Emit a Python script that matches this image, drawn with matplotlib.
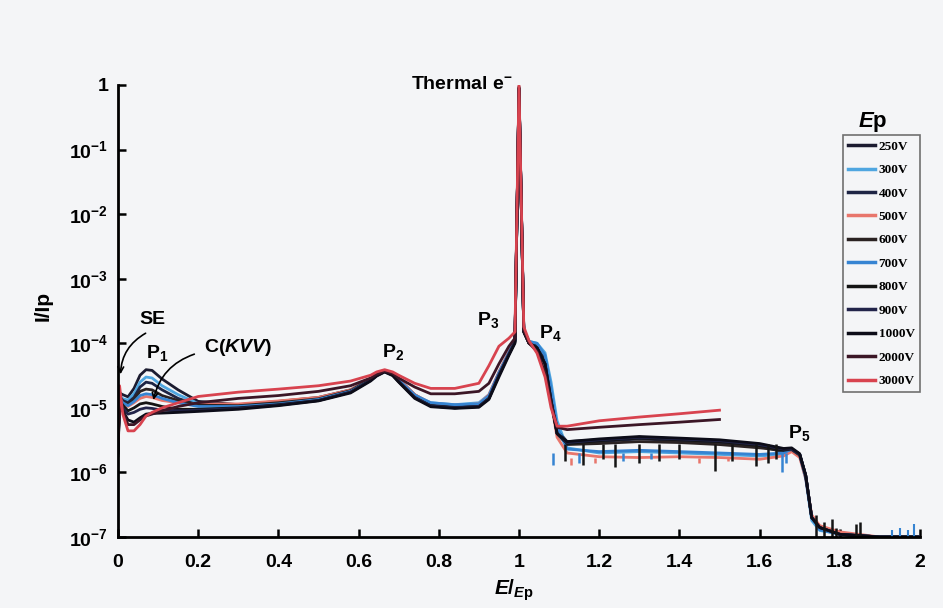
import matplotlib
matplotlib.use('Agg')
import matplotlib.pyplot as plt
from matplotlib.ticker import NullLocator

# Energy spectra I/Ip vs E/Ep for several primary energies

x_low = [0.0, 0.004, 0.012, 0.025, 0.04, 0.055, 0.07, 0.085, 0.11, 0.15,
         0.2, 0.3, 0.4, 0.5, 0.58, 0.63, 0.645, 0.665, 0.685, 0.7,
         0.74, 0.78, 0.84, 0.9, 0.925, 0.95, 0.975, 0.99, 1.0, 1.012,
         1.025, 1.045, 1.065, 1.08, 1.095, 1.12, 1.2, 1.3, 1.4, 1.5,
         1.6, 1.66, 1.68, 1.7, 1.715, 1.73, 1.75, 1.8, 1.9, 2.0]

x_high = [0.0, 0.004, 0.012, 0.025, 0.04, 0.055, 0.07, 0.085, 0.11, 0.15,
          0.2, 0.3, 0.4, 0.5, 0.58, 0.63, 0.645, 0.665, 0.685, 0.7,
          0.74, 0.78, 0.84, 0.9, 0.925, 0.95, 0.975, 0.99, 1.0, 1.012,
          1.025, 1.045, 1.065, 1.08, 1.095, 1.12, 1.2, 1.3, 1.4, 1.5]

y_250 = [2.5e-6, 1.7e-5, 1.6e-5, 1.48e-5, 2.0e-5, 3.2e-5, 3.9e-5, 3.8e-5, 2.8e-5, 1.9e-5,
         1.26e-5, 1.12e-5, 1.26e-5, 1.45e-5, 1.9e-5, 2.8e-5, 3.3e-5, 3.75e-5, 3.4e-5, 2.8e-5,
         1.6e-5, 1.15e-5, 1.07e-5, 1.12e-5, 1.4e-5, 3.5e-5, 7.1e-5, 1.12e-4, 0.89, 1.6e-4,
         1.05e-4, 8.9e-5, 5.0e-5, 1.4e-5, 4.5e-6, 3.0e-6, 3.2e-6, 3.5e-6, 3.3e-6, 3.0e-6,
         2.5e-6, 2.1e-6, 2.3e-6, 1.9e-6, 8.9e-7, 2.0e-7, 1.4e-7, 1.12e-7, 1.0e-7, 1.0e-7]

y_300 = [2.5e-6, 1.6e-5, 1.38e-5, 1.32e-5, 1.66e-5, 2.5e-5, 3.0e-5, 2.9e-5, 2.2e-5, 1.6e-5,
         1.17e-5, 1.1e-5, 1.23e-5, 1.4e-5, 1.86e-5, 2.75e-5, 3.25e-5, 3.7e-5, 3.35e-5, 2.7e-5,
         1.55e-5, 1.2e-5, 1.12e-5, 1.2e-5, 1.6e-5, 3.5e-5, 7.1e-5, 1.12e-4, 0.89, 1.6e-4,
         1.07e-4, 1.0e-4, 7.1e-5, 2.5e-5, 6.3e-6, 2.4e-6, 2.0e-6, 2.1e-6, 2.0e-6, 1.9e-6,
         1.8e-6, 1.9e-6, 2.2e-6, 1.8e-6, 7.9e-7, 1.8e-7, 1.26e-7, 1.12e-7, 1.0e-7, 1.0e-7]

y_400 = [2.2e-6, 1.5e-5, 1.3e-5, 1.2e-5, 1.45e-5, 2.1e-5, 2.5e-5, 2.4e-5, 1.9e-5, 1.4e-5,
         1.1e-5, 1.07e-5, 1.2e-5, 1.38e-5, 1.85e-5, 2.75e-5, 3.25e-5, 3.7e-5, 3.3e-5, 2.65e-5,
         1.5e-5, 1.12e-5, 1.05e-5, 1.1e-5, 1.5e-5, 3.4e-5, 7.0e-5, 1.1e-4, 0.9, 1.6e-4,
         1.05e-4, 9.0e-5, 5.5e-5, 1.5e-5, 4.5e-6, 2.9e-6, 3.0e-6, 3.3e-6, 3.1e-6, 2.9e-6,
         2.5e-6, 2.2e-6, 2.3e-6, 1.9e-6, 9.0e-7, 2.0e-7, 1.4e-7, 1.1e-7, 1.0e-7, 1.0e-7]

y_500 = [2.5e-6, 1.4e-5, 1.2e-5, 1.05e-5, 1.2e-5, 1.4e-5, 1.5e-5, 1.45e-5, 1.3e-5, 1.2e-5,
         1.15e-5, 1.15e-5, 1.28e-5, 1.45e-5, 1.9e-5, 2.8e-5, 3.3e-5, 3.8e-5, 3.4e-5, 2.8e-5,
         1.6e-5, 1.18e-5, 1.1e-5, 1.15e-5, 1.6e-5, 3.6e-5, 7.5e-5, 1.15e-4, 0.92, 1.5e-4,
         1.0e-4, 8.5e-5, 4.5e-5, 1.2e-5, 3.5e-6, 2.0e-6, 1.75e-6, 1.7e-6, 1.75e-6, 1.7e-6,
         1.6e-6, 1.8e-6, 2.1e-6, 1.7e-6, 8.0e-7, 2.2e-7, 1.5e-7, 1.2e-7, 1.0e-7, 1.0e-7]

y_600 = [2.2e-6, 1.45e-5, 1.25e-5, 1.12e-5, 1.35e-5, 1.8e-5, 1.95e-5, 1.9e-5, 1.55e-5, 1.3e-5,
         1.1e-5, 1.08e-5, 1.2e-5, 1.38e-5, 1.85e-5, 2.8e-5, 3.3e-5, 3.8e-5, 3.35e-5, 2.65e-5,
         1.5e-5, 1.1e-5, 1.05e-5, 1.08e-5, 1.45e-5, 3.3e-5, 7.0e-5, 1.1e-4, 0.9, 1.55e-4,
         1.0e-4, 8.8e-5, 5.0e-5, 1.4e-5, 4.0e-6, 2.7e-6, 2.8e-6, 3.0e-6, 2.9e-6, 2.7e-6,
         2.4e-6, 2.2e-6, 2.25e-6, 1.85e-6, 8.5e-7, 2.0e-7, 1.4e-7, 1.1e-7, 1.0e-7, 1.0e-7]

y_700 = [2.5e-6, 1.4e-5, 1.2e-5, 1.08e-5, 1.25e-5, 1.55e-5, 1.65e-5, 1.6e-5, 1.4e-5, 1.2e-5,
         1.05e-5, 1.05e-5, 1.15e-5, 1.35e-5, 1.8e-5, 2.7e-5, 3.2e-5, 3.7e-5, 3.35e-5, 2.7e-5,
         1.58e-5, 1.2e-5, 1.12e-5, 1.15e-5, 1.55e-5, 3.5e-5, 7.2e-5, 1.1e-4, 0.9, 1.6e-4,
         1.07e-4, 1.0e-4, 6.5e-5, 2.0e-5, 5.0e-6, 2.3e-6, 2.1e-6, 2.2e-6, 2.1e-6, 2.0e-6,
         1.9e-6, 2.0e-6, 2.3e-6, 1.9e-6, 8.5e-7, 2.0e-7, 1.3e-7, 1.1e-7, 1.0e-7, 1.0e-7]

y_800 = [2.0e-6, 1.3e-5, 1.1e-5, 9.0e-6, 1.0e-5, 1.15e-5, 1.2e-5, 1.15e-5, 1.05e-5, 9.5e-6,
         9.5e-6, 1.0e-5, 1.12e-5, 1.3e-5, 1.75e-5, 2.7e-5, 3.2e-5, 3.7e-5, 3.25e-5, 2.55e-5,
         1.45e-5, 1.07e-5, 1.0e-5, 1.05e-5, 1.4e-5, 3.2e-5, 6.8e-5, 1.05e-4, 0.88, 1.5e-4,
         1.0e-4, 8.5e-5, 4.8e-5, 1.3e-5, 4.0e-6, 2.8e-6, 3.1e-6, 3.4e-6, 3.2e-6, 3.0e-6,
         2.6e-6, 2.2e-6, 2.3e-6, 1.9e-6, 9.0e-7, 2.0e-7, 1.4e-7, 1.1e-7, 1.0e-7, 1.0e-7]

y_900 = [2.0e-6, 1.25e-5, 1.0e-5, 8.0e-6, 8.5e-6, 9.5e-6, 1.0e-5, 9.8e-6, 9.2e-6, 9.0e-6,
         9.2e-6, 9.8e-6, 1.1e-5, 1.3e-5, 1.75e-5, 2.65e-5, 3.15e-5, 3.6e-5, 3.2e-5, 2.55e-5,
         1.45e-5, 1.07e-5, 1.0e-5, 1.05e-5, 1.4e-5, 3.2e-5, 6.8e-5, 1.05e-4, 0.88, 1.5e-4,
         1.0e-4, 8.5e-5, 4.8e-5, 1.3e-5, 4.0e-6, 2.9e-6, 3.2e-6, 3.5e-6, 3.3e-6, 3.1e-6,
         2.7e-6, 2.3e-6, 2.3e-6, 1.9e-6, 9.0e-7, 2.0e-7, 1.4e-7, 1.1e-7, 1.0e-7, 1.0e-7]

y_1000 = [1.8e-6, 1.2e-5, 9.0e-6, 6.5e-6, 6.0e-6, 7.0e-6, 8.0e-6, 8.2e-6, 8.3e-6, 8.5e-6,
          8.8e-6, 9.5e-6, 1.08e-5, 1.28e-5, 1.7e-5, 2.6e-5, 3.1e-5, 3.6e-5, 3.15e-5, 2.5e-5,
          1.4e-5, 1.04e-5, 9.8e-6, 1.02e-5, 1.35e-5, 3.0e-5, 6.5e-5, 1.0e-4, 0.88, 1.5e-4,
          1.0e-4, 8.5e-5, 4.8e-5, 1.3e-5, 4.0e-6, 3.0e-6, 3.3e-6, 3.6e-6, 3.4e-6, 3.2e-6,
          2.8e-6, 2.35e-6, 2.4e-6, 1.95e-6, 9.0e-7, 2.0e-7, 1.4e-7, 1.1e-7, 1.0e-7, 1.0e-7]

y_2000 = [2.5e-6, 1.5e-5, 9.0e-6, 5.5e-6, 5.5e-6, 6.5e-6, 7.5e-6, 8.0e-6, 9.0e-6, 1.05e-5,
          1.2e-5, 1.4e-5, 1.55e-5, 1.8e-5, 2.2e-5, 2.9e-5, 3.3e-5, 3.7e-5, 3.4e-5, 2.9e-5,
          2.1e-5, 1.65e-5, 1.65e-5, 1.8e-5, 2.4e-5, 4.8e-5, 9.0e-5, 1.2e-4, 0.95, 1.6e-4,
          1.0e-4, 7.5e-5, 3.5e-5, 1.2e-5, 5.0e-6, 4.6e-6, 5.0e-6, 5.5e-6, 6.0e-6, 6.6e-6]

y_3000 = [3.3e-6, 2.2e-5, 8.0e-6, 4.4e-6, 4.4e-6, 5.5e-6, 7.5e-6, 8.5e-6, 1.0e-5, 1.2e-5,
          1.5e-5, 1.75e-5, 1.95e-5, 2.2e-5, 2.6e-5, 3.2e-5, 3.6e-5, 3.9e-5, 3.6e-5, 3.2e-5,
          2.4e-5, 2.0e-5, 2.0e-5, 2.4e-5, 4.5e-5, 9.0e-5, 1.2e-4, 1.5e-4, 1.0, 1.8e-4,
          1.1e-4, 7.0e-5, 3.0e-5, 1.0e-5, 5.2e-6, 5.2e-6, 6.3e-6, 7.2e-6, 8.1e-6, 9.2e-6]

labels = ['250V', '300V', '400V', '500V', '600V', '700V', '800V', '900V', '1000V', '2000V', '3000V']
series = [y_250, y_300, y_400, y_500, y_600, y_700, y_800, y_900, y_1000, y_2000, y_3000]
colors = ['#1b1b30', '#4fa6e0', '#1e2545', '#e8766c', '#2a2222', '#3684d2',
          '#141414', '#22244a', '#0c0c18', '#3b1626', '#d8434f']

# noise dips in the 1.1-1.7 plateau and the tail after the cutoff
dip_x_black = [1.115, 1.16, 1.21, 1.24, 1.30, 1.35, 1.40, 1.49, 1.53, 1.59, 1.62, 1.64]
dip_lo_black = [1.5e-6, 1.3e-6, 1.6e-6, 1.2e-6, 1.4e-6, 1.5e-6, 1.6e-6, 1.05e-6, 1.5e-6, 1.25e-6, 1.4e-6, 1.6e-6]
dip_x_blue = [1.085, 1.15, 1.26, 1.33, 1.655, 1.665]
dip_lo_blue = [1.3e-6, 1.4e-6, 1.5e-6, 1.6e-6, 1.0e-6, 1.4e-6]
dip_x_red = [1.13, 1.19, 1.45, 1.52]
dip_lo_red = [1.3e-6, 1.4e-6, 1.4e-6, 1.5e-6]
tail_x_black = [1.74, 1.76, 1.78, 1.79, 1.84, 1.85]
tail_hi_black = [2.2e-7, 1.7e-7, 1.9e-7, 1.4e-7, 1.6e-7, 1.7e-7]
tail_x_blue = [1.93, 1.95, 1.97, 1.985]
tail_hi_blue = [1.3e-7, 1.4e-7, 1.3e-7, 1.6e-7]

x_ticks = [0, 0.2, 0.4, 0.6, 0.8, 1.0, 1.2, 1.4, 1.6, 1.8, 2.0]
x_tick_labels = ['0', '0.2', '0.4', '0.6', '0.8', '1', '1.2', '1.4', '1.6', '1.8', '2']
y_ticks = [1e-7, 1e-6, 1e-5, 1e-4, 1e-3, 1e-2, 1e-1, 1]
y_tick_labels = [r'$10^{-7}$', r'$10^{-6}$', r'$10^{-5}$', r'$10^{-4}$',
                 r'$10^{-3}$', r'$10^{-2}$', r'$10^{-1}$', '1']

bg = '#f4f5f7'
plt.rcParams['font.family'] = ['Liberation Sans', 'DejaVu Sans']
plt.rcParams['font.weight'] = 'bold'
plt.rcParams['mathtext.fontset'] = 'custom'
plt.rcParams['mathtext.rm'] = 'Liberation Sans:bold'
plt.rcParams['mathtext.bf'] = 'Liberation Sans:bold'
plt.rcParams['mathtext.it'] = 'Liberation Sans:italic:bold'

fig = plt.figure(figsize=(9.43, 6.08), dpi=100, facecolor=bg)
ax = fig.add_axes([0.1251, 0.1168, 0.8505, 0.7434], facecolor=bg)

for lab, col, ys in zip(labels, colors, series):
    xs = x_low if len(ys) == len(x_low) else x_high
    ax.plot(xs, ys, color=col, lw=2.0, label=lab, solid_joinstyle='round')

ax.vlines(dip_x_black, dip_lo_black, 2.8e-6, color='#141414', lw=1.8)
ax.vlines(dip_x_blue, dip_lo_blue, 2.0e-6, color='#3684d2', lw=1.8)
ax.vlines(dip_x_red, dip_lo_red, 1.7e-6, color='#e8766c', lw=1.8)
ax.vlines(tail_x_black, 1e-7, tail_hi_black, color='#141414', lw=1.8)
ax.vlines(tail_x_blue, 1e-7, tail_hi_blue, color='#3684d2', lw=1.5)

ax.set_yscale('log')
ax.set_xlim(0, 2)
ax.set_ylim(1e-7, 1)
ax.set_xticks(x_ticks)
ax.set_xticklabels(x_tick_labels)
ax.set_yticks(y_ticks)
ax.set_yticklabels(y_tick_labels)
ax.yaxis.set_minor_locator(NullLocator())
ax.tick_params(direction='in', length=6, width=1.8, labelsize=14, pad=7)
ax.tick_params(axis='x', pad=12)
for s in ['top', 'right']:
    ax.spines[s].set_visible(False)
for s in ['left', 'bottom']:
    ax.spines[s].set_linewidth(2)

# peak labels
fs = 14
ax.text(0.087, 2.3e-4, 'SE', fontsize=fs, ha='center', va='center')
ax.annotate('', xy=(0.006, 3.0e-5), xytext=(0.075, 1.5e-4),
            arrowprops=dict(arrowstyle='->', lw=1.2, color='black',
                            connectionstyle='arc3,rad=0.3'))
ax.text(0.097, 7.1e-5, r'P$_1$', fontsize=fs, ha='center', va='center')
ax.text(0.30, 8.5e-5, r'C($\mathit{KVV}$)', fontsize=fs, ha='center', va='center')
ax.annotate('', xy=(0.087, 1.2e-5), xytext=(0.197, 7.0e-5),
            arrowprops=dict(arrowstyle='->', lw=1.2, color='black',
                            connectionstyle='arc3,rad=0.3'))
ax.text(0.686, 7.2e-5, r'P$_2$', fontsize=fs, ha='center', va='center')
ax.text(0.923, 2.3e-4, r'P$_3$', fontsize=fs, ha='center', va='center')
ax.text(1.077, 1.45e-4, r'P$_4$', fontsize=fs, ha='center', va='center')
ax.text(1.70, 4.1e-6, r'P$_5$', fontsize=fs, ha='center', va='center')
ax.text(0.985, 1.0, r'Thermal e$^{-}$', fontsize=fs, ha='right', va='center')

leg = ax.legend(loc='upper right', bbox_to_anchor=(1.0, 0.889), frameon=True,
                fancybox=False, framealpha=1, facecolor=bg, edgecolor='#707070',
                prop={'family': 'Liberation Serif', 'weight': 'bold', 'size': 9.5},
                handlelength=2.0, handletextpad=0.3, labelspacing=0.85,
                borderpad=0.4, borderaxespad=0)
leg.get_frame().set_linewidth(1.2)
for h in leg.get_lines():
    h.set_linewidth(2.5)

fig.text(0.926, 0.799, r'$\mathit{E}$p', fontsize=16, ha='center', va='center')
fig.text(0.046, 0.497, 'I/Ip', fontsize=15, rotation=90, ha='center', va='center')
fig.text(0.545, 0.03, r'$\mathit{E}$/$_{\mathit{E}\mathrm{p}}$', fontsize=15, ha='center', va='center')

fig.savefig('out.png', dpi=100, facecolor=bg)
